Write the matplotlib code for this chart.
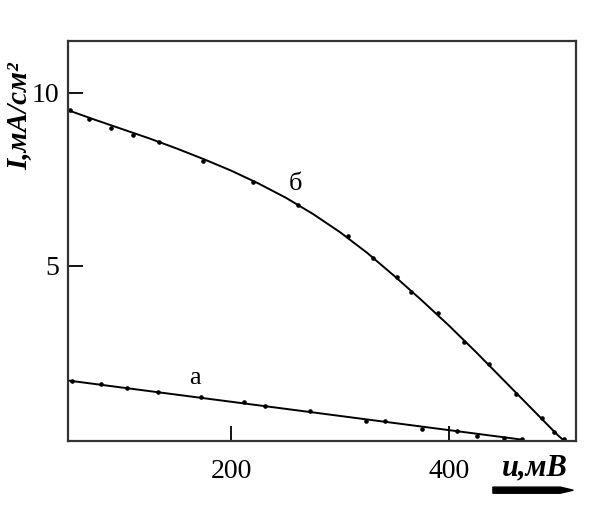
import numpy as np
import matplotlib.pyplot as plt

# curve б : measured points (u, mV ; I, mA/cm2)
u_b = [52, 69, 90, 110, 134, 174, 220, 261, 307, 330, 352, 365, 390, 414, 437, 462, 486, 497, 506]
i_b = [9.51, 9.24, 8.97, 8.79, 8.59, 8.03, 7.43, 6.76, 5.86, 5.21, 4.68, 4.25, 3.64, 2.80, 2.16, 1.29, 0.59, 0.18, 0.0]
# curve б : drawn (smoothed) line
u_b_line = [50, 75, 100, 125, 150, 175, 200, 225, 250, 275, 300, 325, 350, 375, 400, 425, 450, 475, 500, 505]
i_b_line = [9.50, 9.22, 8.95, 8.68, 8.39, 8.08, 7.75, 7.38, 6.97, 6.50, 5.97, 5.37, 4.70, 4.00, 3.27, 2.50, 1.70, 0.90, 0.10, -0.04]

# curve а
u_a = [54, 80, 104, 133, 172, 212, 231, 272, 324, 341, 375, 407, 426, 451, 467]
i_a = [1.66, 1.58, 1.47, 1.34, 1.19, 1.06, 0.93, 0.79, 0.52, 0.50, 0.28, 0.21, 0.07, 0.02, 0.0]
u_a_line = [50, 467]
i_a_line = [1.68, -0.03]

xticks = [200, 400]
yticks = [5, 10]

plt.rcParams['font.family'] = ['Liberation Serif', 'DejaVu Serif']

fig = plt.figure(figsize=(5.91, 5.09), dpi=100)
ax = fig.add_axes([0.115, 0.1336, 0.86, 0.7858])

ax.plot(u_b_line, i_b_line, '-', color='black', lw=1.4, solid_joinstyle='round')
ax.plot(u_a_line, i_a_line, '-', color='black', lw=1.4)
ax.plot(u_b, i_b, 'o', color='black', ms=2.3)
ax.plot(u_a, i_a, 'o', color='black', ms=2.3)

ax.text(259, 7.35, 'б', fontsize=19, ha='center', va='center')
ax.text(167, 1.75, 'а', fontsize=19, ha='center', va='center')

ax.set_xlim(50, 517)
ax.set_ylim(-0.07, 11.5)
ax.set_xticks(xticks)
ax.set_yticks(yticks)
ax.tick_params(direction='in', length=11, width=1.3, labelsize=20)
ax.tick_params(axis='x', pad=13)
ax.tick_params(axis='y', pad=6)
for s in ax.spines.values():
    s.set_linewidth(1.6)
    s.set_color('#333333')

fig.text(0.032, 0.772, 'I,мА/см²', rotation=90, fontsize=21, fontweight='bold',
         fontstyle='italic', ha='center', va='center')
fig.text(0.905, 0.081, 'u,мВ', fontsize=22, fontweight='bold', fontstyle='italic',
         ha='center', va='center')
fig.patches.append(plt.matplotlib.patches.FancyArrow(
    0.834, 0.037, 0.136, 0, width=0.012, head_width=0.012, head_length=0.022,
    length_includes_head=True, color='black', transform=fig.transFigure))

fig.savefig('out.png', dpi=100)
